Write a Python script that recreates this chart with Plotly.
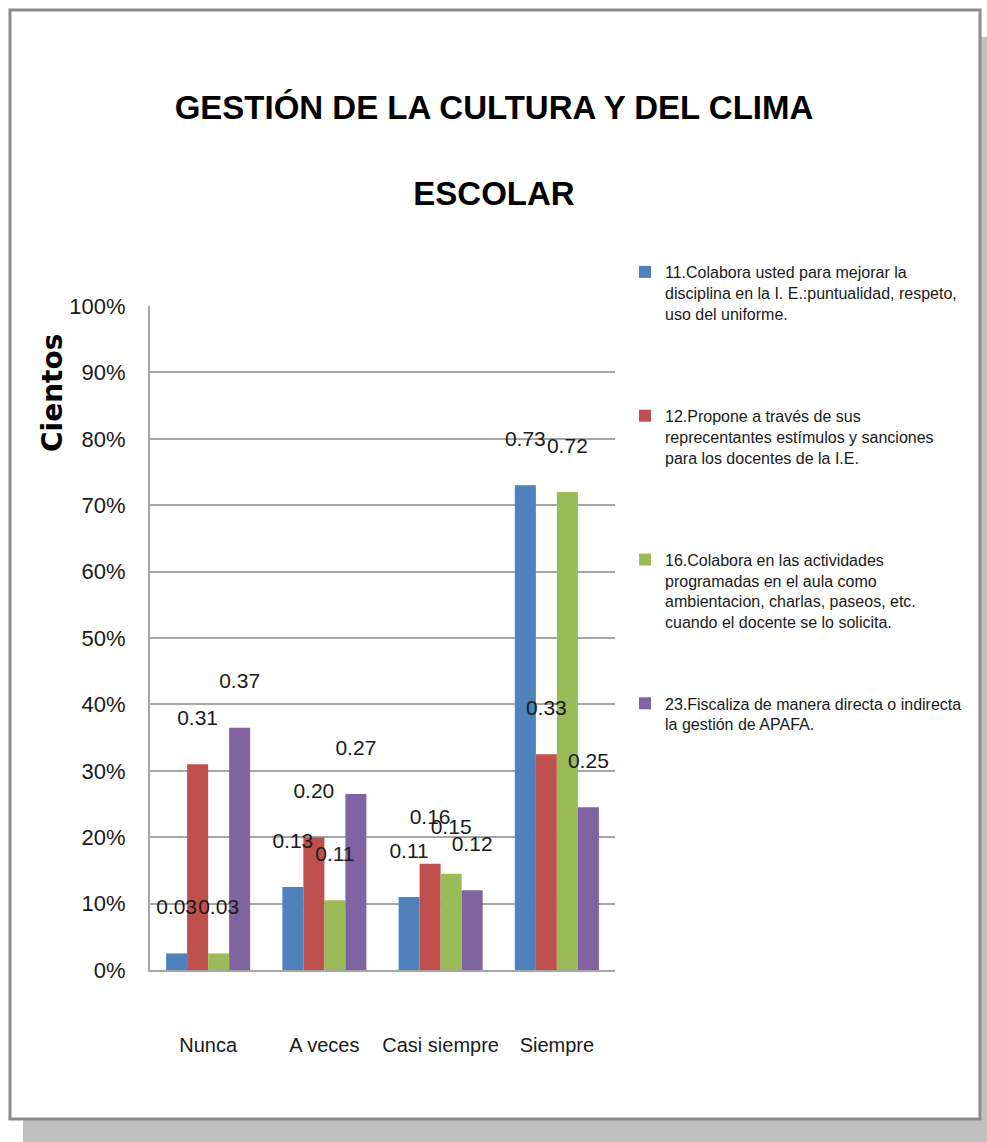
import plotly.graph_objects as go

categories = ["Nunca", "A veces", "Casi siempre", "Siempre"]

series_names = [
    "11.Colabora usted para mejorar la<br>disciplina en la I. E.:puntualidad, respeto,<br>uso del uniforme.<br>&nbsp;<br>&nbsp;<br>&nbsp;",
    "12.Propone a través de sus<br>reprecentantes estímulos y sanciones<br>para los docentes de la I.E.<br>&nbsp;<br>&nbsp;<br>&nbsp;",
    "16.Colabora en las actividades<br>programadas en el aula como<br>ambientacion, charlas, paseos, etc.<br>cuando el docente se lo solicita.<br>&nbsp;<br>&nbsp;",
    "23.Fiscaliza de manera directa o indirecta<br>la gestión de APAFA.",
]

s11 = [0.025, 0.125, 0.11, 0.73]
s12 = [0.31, 0.20, 0.16, 0.325]
s16 = [0.025, 0.105, 0.145, 0.72]
s23 = [0.365, 0.265, 0.12, 0.245]

l11 = ["0.03", "0.13", "0.11", "0.73"]
l12 = ["0.31", "0.20", "0.16", "0.33"]
l16 = ["0.03", "0.11", "0.15", "0.72"]
l23 = ["0.37", "0.27", "0.12", "0.25"]

colors = ["#4F81BD", "#C0504D", "#9BBB59", "#8064A2"]

y_ticks = [0, 0.1, 0.2, 0.3, 0.4, 0.5, 0.6, 0.7, 0.8, 0.9, 1.0]
y_tick_labels = ["0%", "10%", "20%", "30%", "40%", "50%", "60%", "70%", "80%", "90%", "100%"]

title_text = "GESTIÓN DE LA CULTURA Y DEL CLIMA<br><br>ESCOLAR"
y_title = "Cientos"

FONT = "Liberation Sans, Arial, sans-serif"

values = [s11, s12, s16, s23]
labels = [l11, l12, l16, l23]

fig = go.Figure()
for i in range(4):
    fig.add_trace(go.Bar(
        x=categories, y=values[i], name=series_names[i],
        marker=dict(color=colors[i], line=dict(width=0)),
        offsetgroup=str(i), legendgroup=str(i),
        hoverinfo="x+y",
    ))
for i in range(4):
    fig.add_trace(go.Scatter(
        x=categories, y=values[i], text=labels[i],
        mode="markers+text", textposition="top center",
        marker=dict(size=53, opacity=0),
        textfont=dict(family=FONT, size=21, color="#1a1a1a"),
        offsetgroup=str(i), showlegend=False, hoverinfo="skip",
        cliponaxis=False,
    ))

W, H = 987, 1142
L, R, T, B = 150, 372, 306, 172
pw, ph = W - L - R, H - T - B

def px_x(x):
    return (x - L) / pw

def px_y(y):
    return (H - B - y) / ph

shapes = [
    # shadow bands
    dict(type="rect", xref="paper", yref="paper", x0=px_x(23), x1=px_x(990), y0=px_y(1145), y1=px_y(1119),
         fillcolor="#c0c0c0", line=dict(width=0), layer="below"),
    dict(type="rect", xref="paper", yref="paper", x0=px_x(980), x1=px_x(990), y0=px_y(1145), y1=px_y(37),
         fillcolor="#c0c0c0", line=dict(width=0), layer="below"),
    # frame
    dict(type="rect", xref="paper", yref="paper", x0=px_x(10), x1=px_x(980), y0=px_y(1119), y1=px_y(10),
         fillcolor="white", line=dict(color="#8c8c8c", width=3), layer="below"),
]

fig.update_layout(
    width=W, height=H,
    margin=dict(l=L, r=R, t=T, b=B, autoexpand=False),
    paper_bgcolor="white", plot_bgcolor="rgba(0,0,0,0)",
    barmode="group", bargap=0.277, bargroupgap=0,
    scattermode="group", scattergap=0.277,
    title=dict(text=title_text, x=494 / W, xref="container", xanchor="center",
               y=1 - 119 / H, yref="container", yanchor="middle",
               font=dict(family=FONT, size=33, color="black", weight="bold")),
    xaxis=dict(showgrid=False, showline=True, linecolor="#a6a6a6", linewidth=2,
               ticks="", ticklabelstandoff=56,
               tickfont=dict(family=FONT, size=20, color="#1a1a1a")),
    yaxis=dict(range=[0, 1], tickvals=y_ticks, ticktext=y_tick_labels,
               showgrid=True, gridcolor="#a6a6a6", gridwidth=2,
               showline=True, linecolor="#a6a6a6", linewidth=2, zeroline=False,
               ticks="", ticklabelstandoff=18,
               tickfont=dict(family=FONT, size=22, color="#1a1a1a")),
    legend=dict(x=px_x(625), y=px_y(255), xanchor="left", yanchor="top",
                valign="top", tracegroupgap=16, bgcolor="rgba(0,0,0,0)",
                font=dict(family=FONT, size=16, color="#1a1a1a")),
    shapes=shapes,
    annotations=[dict(text=y_title, xref="paper", yref="paper", x=px_x(52), y=px_y(393),
                      xanchor="center", yanchor="middle",
                      showarrow=False, textangle=-90,
                      font=dict(family="DejaVu Sans, Verdana, sans-serif", size=28, color="black", weight="bold"))],
    showlegend=True,
)

fig.write_html("out.html", config={"displayModeBar": False},
               post_script="document.body.style.margin='0';document.body.style.overflow='hidden';")
